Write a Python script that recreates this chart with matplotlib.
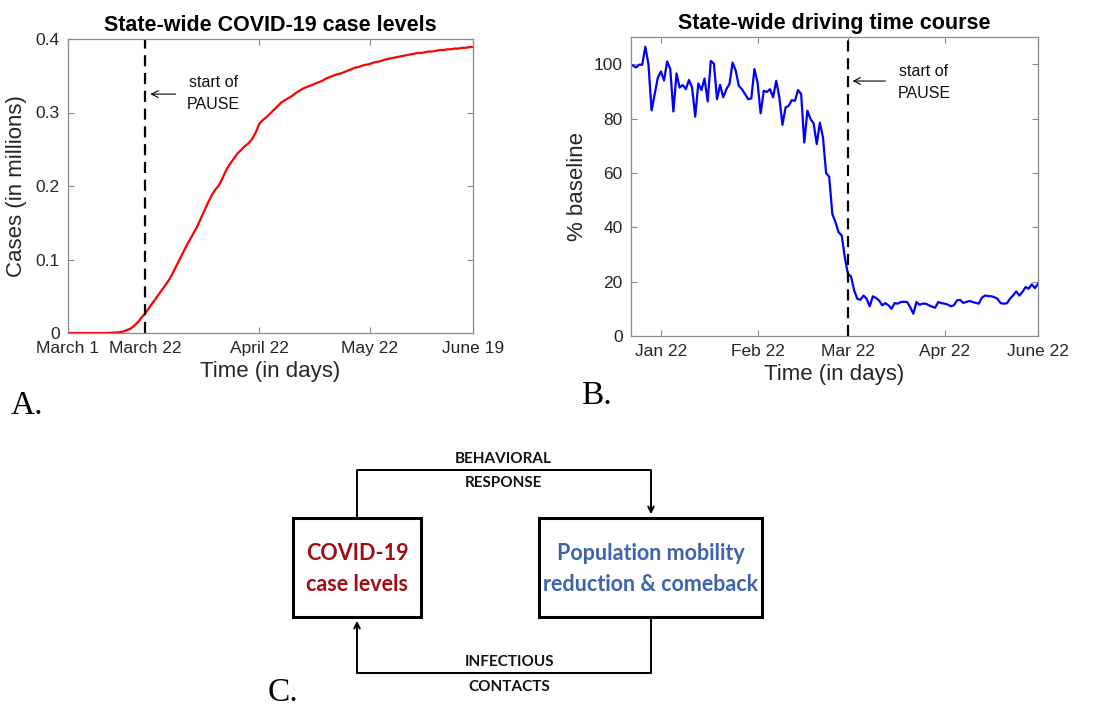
import matplotlib
matplotlib.use("Agg")
import matplotlib.pyplot as plt
from matplotlib.patches import Rectangle

# Panel A: cumulative state-wide cases (millions), one value per day from March 1
case_days = list(range(0, 111))
case_millions = [
    0, 0, 0, 0, 0, 0, 0, 0, 0, 0, 0,
    0.0002, 0.0004, 0.0007, 0.001, 0.002, 0.004, 0.006, 0.010, 0.015, 0.021,
    0.027, 0.034, 0.041, 0.048, 0.055, 0.062, 0.069, 0.077, 0.087, 0.097,
    0.107, 0.117, 0.126, 0.135, 0.144, 0.155, 0.166, 0.177, 0.187, 0.195,
    0.201, 0.211, 0.222, 0.230, 0.237, 0.244, 0.249, 0.254, 0.258, 0.264,
    0.273, 0.285, 0.290, 0.294, 0.299, 0.304, 0.309, 0.314, 0.317, 0.320,
    0.323, 0.327, 0.330, 0.333, 0.335, 0.337, 0.339, 0.341, 0.343, 0.346,
    0.348, 0.350, 0.352, 0.353, 0.355, 0.357, 0.359, 0.361, 0.362, 0.364,
    0.365, 0.366, 0.368, 0.369, 0.370, 0.372, 0.373, 0.374, 0.375, 0.376,
    0.377, 0.378, 0.379, 0.380, 0.381, 0.381, 0.382, 0.383, 0.383, 0.384,
    0.385, 0.385, 0.386, 0.386, 0.387, 0.387, 0.388, 0.388, 0.389, 0.389,
]
case_tick_days = [0, 21, 52, 82, 110]
case_tick_labels = ["March 1", "March 22", "April 22", "May 22", "June 19"]
case_pause_day = 21

# Panel B: driving as % of baseline, one value per day (day 0 = Jan 22)
drive_days = list(range(-10, 122))
drive_pct = [
    100.0, 99.5, 98.8, 99.8, 99.8, 106.4, 100.0, 83.0, 89.0, 95.0,
    97.3, 94.0, 101.0, 98.2, 82.6, 96.6, 91.4, 92.3, 90.8, 94.2,
    91.4, 80.7, 92.9, 90.5, 94.7, 86.3, 101.2, 100.2, 87.1, 92.4,
    87.8, 90.8, 92.7, 100.6, 97.6, 92.0, 90.8, 89.0, 87.1, 87.4,
    98.2, 93.3, 81.9, 90.2, 89.8, 90.8, 87.8, 93.9, 87.8, 77.7,
    84.1, 84.7, 86.8, 86.5, 90.5, 89.0, 71.2, 82.9, 79.8, 78.2,
    70.6, 78.5, 73.1, 59.9, 58.6, 44.9, 41.9, 38.2, 37.0, 29.0,
    22.9, 21.9, 16.8, 13.7, 13.3, 14.9, 13.7, 10.9, 14.6, 14.0,
    13.1, 11.3, 12.1, 11.3, 10.0, 12.1, 11.9, 12.5, 12.6, 12.5,
    10.6, 8.2, 12.5, 11.5, 11.9, 11.9, 11.3, 10.8, 10.4, 12.5,
    12.1, 11.9, 11.6, 10.9, 11.3, 13.1, 13.3, 12.2, 12.5, 12.9,
    12.5, 12.2, 11.9, 14.1, 14.9, 14.7, 14.6, 14.3, 13.7, 12.1,
    11.9, 12.0, 13.7, 14.9, 16.4, 14.9, 16.2, 18.0, 17.4, 19.0,
    17.6, 19.2,
]
drive_tick_days = [0, 31, 60, 91, 121]
drive_tick_labels = ["Jan 22", "Feb 22", "Mar 22", "Apr 22", "June 22"]
drive_pause_day = 60

W, H = 1116, 708
SANS = "Liberation Sans"
DIAGRAM_FONT = "Lato"
TICK_GRAY = "#262626"
SPINE_GRAY = "#8a8a8a"


def px_axes(fig, left, top, right, bottom):
    # place an axes from pixel edges measured from the top-left corner
    return fig.add_axes([left / W, 1 - bottom / H, (right - left) / W, (bottom - top) / H])


def style_axes(ax):
    for s in ax.spines.values():
        s.set_color(SPINE_GRAY)
        s.set_linewidth(0.9)
    ax.tick_params(direction="in", top=True, right=True, length=4, width=0.8,
                   color=SPINE_GRAY, labelsize=12.5, labelcolor=TICK_GRAY, pad=6)
    for lab in ax.get_xticklabels() + ax.get_yticklabels():
        lab.set_fontfamily(SANS)


def pause_note(ax, x_arrow_tip, x_arrow_tail, y_arrow, x_text, y_text):
    ax.annotate("", xy=(x_arrow_tip, y_arrow), xytext=(x_arrow_tail, y_arrow),
                arrowprops=dict(arrowstyle="->", color="black", lw=0.8,
                                mutation_scale=12))
    ax.text(x_text, y_text, "start of\nPAUSE", ha="center", va="center",
            fontsize=11.5, family=SANS, color="#111111", linespacing=1.6)


def draw_cases(fig):
    ax = px_axes(fig, 68, 39, 473, 333)
    ax.plot(case_days, case_millions, color="#ff0000", lw=1.6)
    ax.axvline(case_pause_day, color="black", lw=1.6, dashes=(5, 3))
    ax.set_xlim(0, 110)
    ax.set_ylim(0, 0.4)
    ax.set_xticks(case_tick_days)
    ax.set_xticklabels(case_tick_labels)
    ax.set_yticks([0, 0.1, 0.2, 0.3, 0.4])
    ax.set_yticklabels(["0", "0.1", "0.2", "0.3", "0.4"])
    style_axes(ax)
    ax.set_title("State-wide COVID-19 case levels", fontsize=15.5, fontweight="bold",
                 family=SANS, pad=6)
    ax.set_xlabel("Time (in days)", fontsize=16, family=SANS, color=TICK_GRAY, labelpad=3)
    ax.set_ylabel("Cases (in millions)", fontsize=16, family=SANS, color=TICK_GRAY, labelpad=6)
    pause_note(ax, 21.6, 30.0, 0.325, 39.4, 0.326)


def draw_driving(fig):
    ax = px_axes(fig, 631, 37, 1038, 336)
    ax.plot(drive_days, drive_pct, color="#0000ff", lw=1.6)
    ax.axvline(drive_pause_day, color="black", lw=1.6, dashes=(5, 3))
    ax.set_xlim(-9.6, 121)
    ax.set_ylim(0, 110)
    ax.set_xticks(drive_tick_days)
    ax.set_xticklabels(drive_tick_labels)
    ax.set_yticks([0, 20, 40, 60, 80, 100])
    style_axes(ax)
    ax.set_title("State-wide driving time course", fontsize=15.5, fontweight="bold",
                 family=SANS, pad=6)
    ax.set_xlabel("Time (in days)", fontsize=16, family=SANS, color=TICK_GRAY, labelpad=3)
    ax.set_ylabel("% baseline", fontsize=16, family=SANS, color=TICK_GRAY, labelpad=4)
    pause_note(ax, 60.6, 72.9, 93.8, 84.4, 93.4)


def draw_loop(fig):
    ax = fig.add_axes([0, 0, 1, 1])
    ax.set_xlim(0, W)
    ax.set_ylim(H, 0)
    ax.axis("off")

    # the two boxes
    ax.add_patch(Rectangle((293, 518), 128, 99, fill=False, lw=2.2, ec="black"))
    ax.add_patch(Rectangle((539, 518), 223, 99, fill=False, lw=2.2, ec="black"))

    # feedback connectors
    ax.plot([357, 357, 651, 651], [518, 470, 470, 508], color="black", lw=1.4)
    ax.annotate("", xy=(651, 517), xytext=(651, 500),
                arrowprops=dict(arrowstyle="->", color="black", lw=1.4))
    ax.plot([651, 651, 357, 357], [617, 673, 673, 627], color="black", lw=1.4)
    ax.annotate("", xy=(357, 618), xytext=(357, 635),
                arrowprops=dict(arrowstyle="->", color="black", lw=1.4))

    lbl = dict(ha="center", va="center", fontsize=11, fontweight="bold", family=DIAGRAM_FONT,
               color="#111111")
    ax.text(503, 459, "BEHAVIORAL", **lbl)
    ax.text(503, 483, "RESPONSE", **lbl)
    ax.text(509, 662, "INFECTIOUS", **lbl)
    ax.text(509, 687, "CONTACTS", **lbl)

    box = dict(ha="center", va="center", fontsize=15.5, fontweight="bold", family=DIAGRAM_FONT,
               linespacing=1.6)
    ax.text(357, 569, "COVID-19\ncase levels", color="#a00d12", **box)
    ax.text(651, 569, "Population mobility\nreduction & comeback", color="#3f63ad", **box)

    # panel letters
    serif = dict(fontsize=24, family="Liberation Serif", va="baseline", ha="left")
    ax.text(11, 414, "A.", **serif)
    ax.text(581, 404, "B.", **serif)
    ax.text(268, 701, "C.", **serif)


def main():
    fig = plt.figure(figsize=(W / 100, H / 100), dpi=100)
    fig.patch.set_facecolor("white")
    draw_cases(fig)
    draw_driving(fig)
    draw_loop(fig)
    fig.savefig("out.png", dpi=100)


if __name__ == "__main__":
    main()
